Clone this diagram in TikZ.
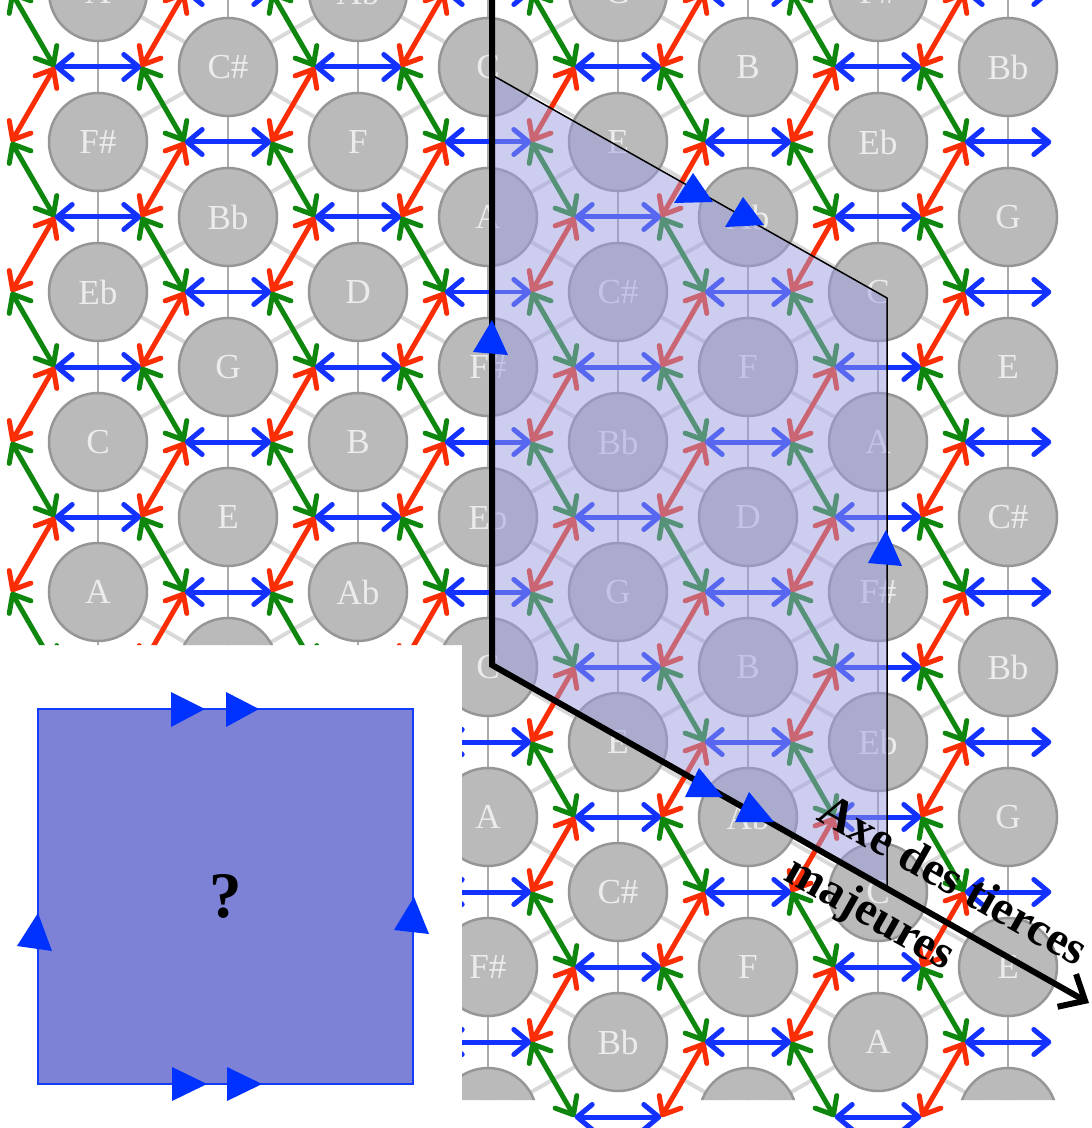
\documentclass[tikz,border=0pt]{standalone}
\usepackage{fontspec}
\setmainfont{Liberation Serif}
\usetikzlibrary{arrows.meta}

\definecolor{arrblue}{RGB}{20,50,255}
\definecolor{arrred}{RGB}{250,45,5}
\definecolor{arrgreen}{RGB}{15,135,15}
\definecolor{notefill}{RGB}{186,186,186}
\definecolor{notedraw}{RGB}{150,150,150}
\definecolor{notetext}{RGB}{236,236,236}
\definecolor{shadefill}{RGB}{155,157,225}
\definecolor{torusfill}{RGB}{125,130,215}
\definecolor{torusdraw}{RGB}{20,60,255}
\definecolor{markblue}{RGB}{0,50,255}

\newcommand\notename[1]{\ifcase#1\relax C\or C\#\or D\or Eb\or E\or F\or F\#\or G\or Ab\or A\or Bb\or B\fi}
\newcommand\trimark[3]{\fill[markblue] #1 -- #2 -- #3 -- cycle;}

\begin{document}
\begin{tikzpicture}[x=0.02cm, y=-0.02cm,
	note/.style={circle, fill=notefill, draw=notedraw, line width=0.05cm, minimum size=1.96cm, inner sep=0pt, text=notetext, font=\fontsize{20}{24}\selectfont},
	vline/.style={draw=black!33, line width=0.04cm},
	dline/.style={draw=black!15, line width=0.08cm},
	link/.style={<->, line width=0.1cm},
	>={Straight Barb[length=0.3cm, width=0.5cm, round]},
	edge/.style={draw=black, line width=0.03cm},
	axis/.style={draw=black, line width=0.12cm, miter limit=20, -{Straight Barb[length=0.42cm, width=0.75cm]}},
	torus/.style={draw=torusdraw, line width=0.04cm, fill=torusfill, minimum size=7.5cm, inner sep=0pt, font=\fontsize{37}{40}\selectfont\bfseries},
	lbl/.style={align=left, inner sep=0pt, font=\fontsize{27}{39}\selectfont\bfseries}
	]
	\fill[white] (0,0) rectangle (1091,1128);
	\useasboundingbox (0,0) rectangle (1091,1128);

	% lattice of notes
	\foreach \j in {1,...,8}{
		\foreach \rw in {3,...,19}{
			\pgfmathtruncatemacro\pty{mod(\j+\rw,2)}
			\ifnum\pty=1
				\coordinate (p\j r\rw) at ({-32+130*\j},{-308+75*\rw});
			\fi
		}
	}
	\begin{scope}
		\clip (0,0) -- (1062,0) -- (1062,1100) -- (462,1100) -- (462,645) -- (0,645) -- cycle;
		\foreach \j in {1,...,8}{
			\foreach \rw in {3,...,19}{
				\pgfmathtruncatemacro\pty{mod(\j+\rw,2)}
				\pgfmathtruncatemacro\jn{\j+1}
				\pgfmathtruncatemacro\ru{\rw-1}
				\pgfmathtruncatemacro\rd{\rw+1}
				\pgfmathtruncatemacro\rdd{\rw+2}
				\ifnum\pty=1
					\ifnum\rw<18 \draw[vline] (p\j r\rw) -- (p\j r\rdd); \fi
					\ifnum\j<8
						\ifnum\rw>3 \draw[dline] (p\j r\rw) -- (p\jn r\ru); \fi
						\ifnum\rw<19 \draw[dline] (p\j r\rw) -- (p\jn r\rd); \fi
					\fi
				\fi
			}
		}
		\foreach \j in {1,...,8}{
			\foreach \rw in {4,...,19}{
				\pgfmathtruncatemacro\pty{mod(\j+\rw,2)}
				\pgfmathtruncatemacro\p{mod((11*\j-3*\rw+19)/2+120,12)}
				\ifnum\pty=1
					\node[note] (n\j r\rw) at (p\j r\rw) {\notename{\p}};
				\fi
			}
		}
	\end{scope}

	% transformations between triads
	\foreach \j in {0,...,8}{
		\foreach \rw in {3,...,19}{
			\pgfmathtruncatemacro\pty{mod(\j+\rw,2)}
			\ifnum\pty=0
				\coordinate (L\j r\rw) at ({-75.33+130*\j},{-308+75*\rw});
				\coordinate (R\j r\rw) at ({11.33+130*\j},{-308+75*\rw});
			\fi
		}
	}
	\begin{scope}
		\clip (0,0) -- (1091,0) -- (1091,1128) -- (462,1128) -- (462,645) -- (0,645) -- cycle;
		\foreach \j in {0,...,8}{
			\foreach \rw in {3,...,19}{
				\pgfmathtruncatemacro\pty{mod(\j+\rw,2)}
				\pgfmathtruncatemacro\jn{\j+1}
				\pgfmathtruncatemacro\ru{\rw-1}
				\pgfmathtruncatemacro\rd{\rw+1}
				\ifnum\pty=0
					\ifnum\j>0 \draw[link, arrblue] (L\j r\rw) -- (R\j r\rw); \fi
					\ifnum\j<8
						\ifnum\rw>3 \draw[link, arrred] (R\j r\rw) -- (L\jn r\ru); \fi
						\ifnum\rw<19 \draw[link, arrgreen] (R\j r\rw) -- (L\jn r\rd); \fi
					\fi
				\fi
			}
		}
	\end{scope}

	% fundamental domain
	\coordinate (top) at (492,-5);
	\coordinate (ptl) at (492,75);
	\coordinate (ptr) at (887,298);
	\coordinate (pbr) at (887,890);
	\coordinate (pbl) at (492,665);
	\coordinate (tip) at (1089,1003);
	\fill[shadefill, fill opacity=0.5] (ptl) -- (ptr) -- (pbr) -- (pbl) -- cycle;
	\draw[edge] (ptl) -- (ptr) -- (pbr);
	\draw[axis] (top) -- (pbl) -- (tip);
	\trimark{(674,203)}{(693,173)}{(713,202)}
	\trimark{(725,227)}{(743,197)}{(764,225)}
	\trimark{(685,797)}{(699,768)}{(723,797)}
	\trimark{(735,822)}{(749,792)}{(774,822)}
	\trimark{(473,352)}{(492,320)}{(508,355)}
	\trimark{(868,563)}{(886,530)}{(902,566)}
	\node[lbl, rotate=-29.5] (axe) at (935,913) {Axe des tierces\\majeures};

	% torus square
	\node[torus] (sq) at (225.5,896.5) {?};
	\trimark{(171,692)}{(205,709)}{(171,727)}
	\trimark{(226,692)}{(259,709)}{(226,727)}
	\trimark{(172,1067)}{(207,1084)}{(172,1101)}
	\trimark{(227,1067)}{(262,1084)}{(227,1101)}
	\trimark{(17,946)}{(38,913)}{(52,951)}
	\trimark{(394,930)}{(414,897)}{(429,934)}
\end{tikzpicture}
\end{document}
